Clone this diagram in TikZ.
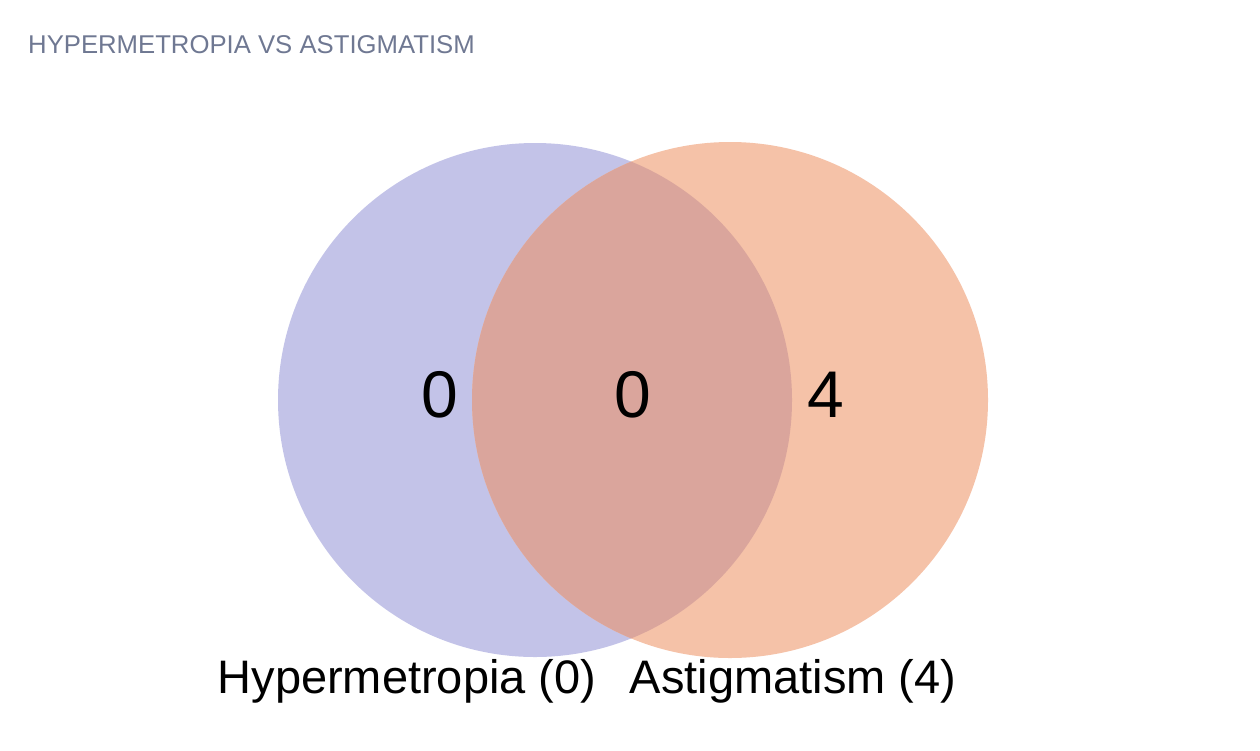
\documentclass[tikz,border=0pt]{standalone}
\usepackage{fontspec}
\setmainfont{Liberation Sans}
\usetikzlibrary{positioning}

\definecolor{hyperfill}{HTML}{C3C3E8}
\definecolor{astigfill}{HTML}{F5C2A8}
\definecolor{lensfill}{HTML}{DAA59C}
\definecolor{titlegray}{HTML}{6F7892}

\begin{document}
\begin{tikzpicture}[x=1pt, y=-1pt,
    count/.style = {font=\fontsize{66}{66}\selectfont},
    setlabel/.style = {anchor=base, font=\fontsize{47}{47}\selectfont},
    heading/.style = {anchor=base west, text=titlegray, inner sep=0pt,
      font=\fontsize{25.7}{25.7}\selectfont}]
    \useasboundingbox (0,0) rectangle (1260,750);
    % the two sets
    \fill[hyperfill] (535,400) circle[radius=257pt];
    \fill[astigfill] (730,400) circle[radius=258pt];
    \begin{scope}
      \clip (535,400) circle[radius=257pt];
      \fill[lensfill] (730,400) circle[radius=258pt];
    \end{scope}
    \node (title) [heading] at (28,53) {HYPERMETROPIA VS ASTIGMATISM};
    \node (onlyhyper) [count] at (440,395) {0};
    \node (both) [count] at (633,395) {0};
    \node (onlyastig) [count] at (826,395) {4};
    \node (hyperlabel) [setlabel] at (407,693) {Hypermetropia (0)};
    \node (astiglabel) [setlabel] at (793,693) {Astigmatism (4)};
\end{tikzpicture}
\end{document}
